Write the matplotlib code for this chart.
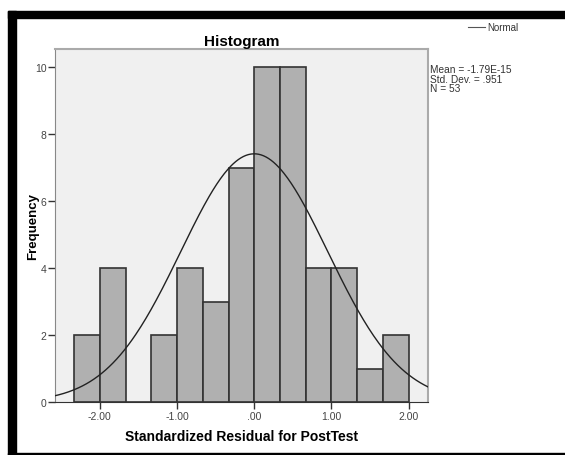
import numpy as np
import matplotlib
matplotlib.use("Agg")
import matplotlib.pyplot as plt
from matplotlib.patches import Rectangle

plt.rcParams['font.family'] = ['Liberation Sans', 'DejaVu Sans']

# histogram of standardized residuals (SPSS style)
bin_edges = [-2.333, -2.0, -1.667, -1.333, -1.0, -0.667, -0.333, 0.0,
             0.333, 0.667, 1.0, 1.333, 1.667, 2.0]
counts = [2, 4, 0, 2, 4, 3, 7, 10, 10, 4, 4, 1, 2]
mean = -1.79e-15
std = 0.951
n = 53
xticks = [-2.0, -1.0, 0.0, 1.0, 2.0]
xticklabels = ['-2.00', '-1.00', '.00', '1.00', '2.00']
yticks = [0, 2, 4, 6, 8, 10]

W, H = 565, 456
fig = plt.figure(figsize=(W / 100, H / 100), dpi=100)
fig.patch.set_facecolor('white')

# black frame pieces of the screenshot
fig.add_artist(Rectangle((8 / W, 0), 8 / W, 1 - 12 / H, transform=fig.transFigure,
                         color='black', zorder=0))
fig.add_artist(Rectangle((8 / W, 1 - 19 / H), 1, 7 / H, transform=fig.transFigure,
                         color='black', zorder=0))
fig.add_artist(Rectangle((8 / W, 0), 1, 2 / H, transform=fig.transFigure,
                         color='black', zorder=0))

ax = fig.add_axes([55 / W, 1 - 403 / H, (428 - 55) / W, (403 - 50) / H])
ax.set_facecolor('#f0f0f0')

widths = np.diff(bin_edges)
ax.bar(bin_edges[:-1], counts, width=widths, align='edge', color='#b0b0b0',
       edgecolor='#333333', linewidth=1.2, zorder=2)

binw = widths.mean()
xs = np.linspace(-2.6, 2.3, 300)
ys = n * binw * np.exp(-0.5 * ((xs - mean) / std) ** 2) / (std * np.sqrt(2 * np.pi))
ax.plot(xs, ys, color='#222222', linewidth=1.0, zorder=3)

ax.set_xlim(-2.58, 2.25)
ax.set_ylim(0, 10.54)
ax.set_xticks(xticks)
ax.set_xticklabels(xticklabels)
ax.set_yticks(yticks)
ax.tick_params(axis='both', labelsize=7.5, labelcolor='#444444', color='#333333',
               length=5, width=1)
ax.tick_params(axis='y', pad=1)
ax.tick_params(axis='x', pad=1.5)
for side in ['top', 'right']:
    ax.spines[side].set_color('#aaaaaa')
    ax.spines[side].set_linewidth(1.5)
ax.spines['left'].set_color('#888888')
ax.spines['bottom'].set_color('#333333')

ax.set_title('Histogram', fontsize=11, fontweight='bold', pad=3)
ax.set_xlabel('Standardized Residual for PostTest', fontsize=10, fontweight='bold',
              labelpad=6)
fig.text(33 / W, 1 - 227 / H, 'Frequency', fontsize=9.5, fontweight='bold',
         rotation=90, ha='center', va='center')

# legend and stats box on the right
fig.add_artist(plt.Line2D([468 / W, 485 / W], [1 - 28 / H, 1 - 28 / H],
                          transform=fig.transFigure, color='#555555', linewidth=0.8))
fig.text(487 / W, 1 - 28 / H, 'Normal', fontsize=7, color='#333333', va='center')
fig.text(430 / W, 1 - 65 / H, 'Mean = -1.79E-15\nStd. Dev. = .951\nN = 53',
         fontsize=7.3, color='#333333', va='top', linespacing=0.95)

fig.savefig('out.png', dpi=100)
